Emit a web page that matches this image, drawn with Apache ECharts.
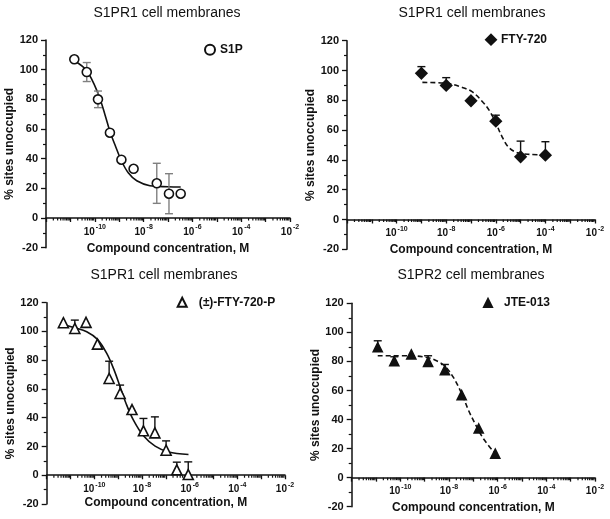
<!DOCTYPE html>
<html><head><meta charset="utf-8">
<script src="https://cdn.jsdelivr.net/npm/echarts@6/dist/echarts.min.js"></script>
<style>html,body{margin:0;padding:0;background:#fff}#c{width:610px;height:519px}</style>
</head><body><div id="c"></div>
<script>
// ---------- text ----------
const panelTitles = ['S1PR1 cell membranes', 'S1PR1 cell membranes', 'S1PR1 cell membranes', 'S1PR2 cell membranes'];
const compoundNames = ['S1P', 'FTY-720', '(±)-FTY-720-P', 'JTE-013'];
const xAxisTitle = 'Compound concentration, M';
const yAxisTitle = '% sites unoccupied';
const yTickValues = [-20, 0, 20, 40, 60, 80, 100, 120];
const xLabelExponents = [-10, -8, -6, -4, -2];

// ---------- data (x = log10 of concentration in M) ----------
// S1P
const s1pLogConc = [-10.84, -10.33, -9.87, -9.38, -8.91, -8.41, -7.46, -6.96, -6.48];
const s1pValues = [107, 98.4, 80, 57.5, 39.3, 33.2, 23.4, 16.4, 16.4];
const s1pErrUp = [0, 6.4, 5.6, 2, 0, 0, 13.5, 13.5, 0];
const s1pErrDown = [0, 6.4, 5.6, 2, 0, 0, 13.5, 13.5, 0];
const s1pFitLogConc = [-10.84, -10.33, -9.87, -9.58, -9.38, -9.17, -8.91, -8.63, -8.28, -7.74, -7.0, -6.48];
const s1pFitValues = [106, 99.3, 84.1, 69.5, 58.3, 49.2, 38.6, 30.5, 25.1, 21.8, 21.1, 20.9];

// FTY-720
const ftyLogConc = [-9, -8, -7, -6, -5, -4];
const ftyValues = [98.1, 90, 79.7, 66, 42.1, 43.2];
const ftyErrUp = [4.5, 5.2, 0, 4, 10.5, 9];
const ftyErrDown = [0, 0, 0, 0, 0, 0];
const ftyFitLogConc = [-8.96, -7.97, -7.44, -6.96, -6.50, -6.23, -5.99, -5.76, -5.50, -5.16, -4.62, -3.95];
const ftyFitValues = [92, 91.4, 89.1, 85.8, 78.4, 72.3, 64.5, 56, 48.8, 45, 43.7, 43.4];

// (±)-FTY-720-P
const ftypLogConc = [-11.30, -10.82, -10.35, -9.87, -9.38, -8.92, -8.42, -7.94, -7.46, -6.99, -6.54, -6.06];
const ftypValues = [106.1, 102.1, 106.3, 91.2, 67.3, 56.9, 45.7, 30.9, 29.5, 17.4, 3.8, 0.5];
const ftypErrUp = [0, 5.8, 0, 0, 12, 5.8, 0, 8.6, 11.1, 6.5, 5.3, 8.8];
const ftypErrDown = [0, 0, 0, 0, 0, 0, 0, 0, 0, 0, 0, 0];
const ftypFitLogConc = [-11.44, -10.82, -10.32, -9.87, -9.48, -9.17, -8.92, -8.67, -8.36, -7.94, -7.45, -6.89, -6.05];
const ftypFitValues = [105.6, 102.6, 99.8, 94.5, 84.7, 73.1, 61.5, 49.9, 38.3, 27.4, 20.2, 16.2, 14.4];

// JTE-013
const jteLogConc = [-10.93, -10.25, -9.55, -8.86, -8.17, -7.48, -6.78, -6.10];
const jteValues = [89.7, 80.2, 84.8, 79.7, 74, 56.8, 33.8, 16.5];
const jteErrUp = [4.5, 3, 0, 4.2, 3.9, 0, 0, 0];
const jteErrDown = [0, 0, 0, 0, 0, 0, 0, 0];
const jteFitLogConc = [-10.93, -9.60, -8.86, -8.51, -8.17, -7.82, -7.48, -7.20, -6.93, -6.59, -6.10];
const jteFitValues = [83.9, 83.9, 82.5, 80.4, 76.8, 69.0, 57.9, 46.4, 37.2, 26.9, 16.5];

// ---------- layout / style ----------
const FONT = 'Liberation Sans, Arial, sans-serif';
const INK = '#111';
const Y_MIN = -20, Y_MAX = 120;
const grids = [
  { left: 46, top: 40, width: 244, height: 207.7 },
  { left: 347, top: 40.7, width: 248, height: 208.6 },
  { left: 46.7, top: 302.7, width: 238.3, height: 201.3 },
  { left: 351.7, top: 303.3, width: 243.3, height: 203.4 }
];
const xNameGaps = [25, 24, 21, 24];
const titlePos = [[167, 6], [472, 6], [164, 268], [471, 268]];
const legendPos = [[204, 43.7], [485, 33.7], [176.7, 296.3], [483, 297]];

// minor tick positions of a log axis (log10 of 2..9 within each decade)
const minorTicks = [];
for (let d = -12; d < -2; d++) for (let k = 2; k <= 9; k++) minorTicks.push([d + Math.log10(k), 0]);

const panels = [
  { log: s1pLogConc, val: s1pValues, up: s1pErrUp, dn: s1pErrDown, fx: s1pFitLogConc, fy: s1pFitValues,
    symbol: 'circle', size: 9, fill: '#fff', dashed: false, errColor: '#808080', leg: 10 },
  { log: ftyLogConc, val: ftyValues, up: ftyErrUp, dn: ftyErrDown, fx: ftyFitLogConc, fy: ftyFitValues,
    symbol: 'diamond', size: 11, fill: INK, dashed: true, errColor: INK, leg: 10 },
  { log: ftypLogConc, val: ftypValues, up: ftypErrUp, dn: ftypErrDown, fx: ftypFitLogConc, fy: ftypFitValues,
    symbol: 'triangle', size: 10, fill: '#fff', dashed: false, errColor: INK, leg: 9 },
  { log: jteLogConc, val: jteValues, up: jteErrUp, dn: jteErrDown, fx: jteFitLogConc, fy: jteFitValues,
    symbol: 'triangle', size: 9, fill: INK, dashed: true, errColor: INK, leg: 8 }
];

const option = {
  animation: false,
  backgroundColor: '#fff',
  textStyle: { fontFamily: FONT, color: INK },
  title: panelTitles.map((t, i) => ({
    text: t, left: titlePos[i][0], top: titlePos[i][1], textAlign: 'center', padding: 0,
    textStyle: { fontFamily: FONT, fontSize: 14, fontWeight: 'normal', color: INK }
  })),
  legend: compoundNames.map((n, i) => ({
    data: [n], left: legendPos[i][0], top: legendPos[i][1], padding: 0,
    itemWidth: panels[i].leg, itemHeight: panels[i].leg, itemGap: 0, selectedMode: false,
    formatter: i === 2 ? '{a|(}{i|±}{t|)-FTY-720-P}' : (i === 3 ? '{a|{name}}' : '{t|{name}}'),
    textStyle: {
      fontFamily: FONT, fontSize: 12, fontWeight: 'bold', color: INK,
      rich: {
        a: { fontFamily: FONT, fontSize: 12, fontWeight: 'bold', color: INK, padding: [0, 0, 0, 7] },
        i: { fontFamily: FONT, fontSize: 12, fontWeight: 'bold', fontStyle: 'italic', color: INK },
        t: { fontFamily: FONT, fontSize: 12, fontWeight: 'bold', color: INK }
      }
    }
  })),
  grid: grids,
  xAxis: grids.map((g, i) => ({
    type: 'value', gridIndex: i, min: -12, max: -2, interval: 1, position: 'bottom',
    // axis drawn where y = 0 crosses the plot
    offset: -g.height * (0 - Y_MIN) / (Y_MAX - Y_MIN),
    axisLine: { onZero: false, lineStyle: { color: INK, width: 1.5 } },
    axisTick: { show: true, length: 4, lineStyle: { color: INK, width: 1.3 } },
    splitLine: { show: false },
    axisLabel: {
      margin: 6,
      formatter: v => (xLabelExponents.indexOf(v) >= 0 ? '{b|10}{s|' + v + '}' : ''),
      rich: {
        b: { fontFamily: FONT, fontSize: 10, fontWeight: 'bold', color: INK, verticalAlign: 'bottom', lineHeight: 13 },
        s: { fontFamily: FONT, fontSize: 7, fontWeight: 'bold', color: INK, verticalAlign: 'top', lineHeight: 13, padding: [0, 0, 0, 1] }
      }
    },
    name: xAxisTitle, nameLocation: 'middle', nameGap: xNameGaps[i],
    nameTextStyle: { fontFamily: FONT, fontSize: 12, fontWeight: 'bold', color: INK }
  })),
  yAxis: grids.map((g, i) => ({
    type: 'value', gridIndex: i, min: Y_MIN, max: Y_MAX, interval: 20,
    axisLine: { show: true, onZero: false, lineStyle: { color: INK, width: 1.5 } },
    axisTick: { show: true, length: 5, lineStyle: { color: INK, width: 1.3 } },
    minorTick: { show: true, splitNumber: 2, length: 3, lineStyle: { color: INK, width: 1.2 } },
    splitLine: { show: false },
    axisLabel: { margin: 8, fontFamily: FONT, fontSize: 11, fontWeight: 'bold', color: INK },
    name: yAxisTitle, nameLocation: 'middle', nameGap: 27,
    nameTextStyle: { fontFamily: FONT, fontSize: 12, fontWeight: 'bold', color: INK }
  })),
  series: []
};

panels.forEach((p, i) => {
  // minor ticks of the log x axis
  option.series.push({
    type: 'custom', xAxisIndex: i, yAxisIndex: i, silent: true, clip: false, z: 1,
    data: minorTicks,
    renderItem: (params, api) => {
      const pt = api.coord([api.value(0), 0]);
      return { type: 'line', shape: { x1: pt[0], y1: pt[1], x2: pt[0], y2: pt[1] + 2.5 },
        style: { stroke: INK, lineWidth: 1.2 } };
    }
  });
  // fitted curve
  option.series.push({
    type: 'line', name: compoundNames[i] + ' fit', xAxisIndex: i, yAxisIndex: i,
    data: p.fx.map((x, k) => [x, p.fy[k]]),
    showSymbol: false, symbol: 'none', smooth: 0.35, z: 2, silent: true,
    lineStyle: { color: INK, width: 1.6, type: p.dashed ? [5, 3] : 'solid' }
  });
  // error bars
  option.series.push({
    type: 'custom', xAxisIndex: i, yAxisIndex: i, silent: true, z: 3,
    data: p.log.map((x, k) => [x, p.val[k], p.up[k], p.dn[k]]),
    encode: { x: 0, y: 1 },
    renderItem: (params, api) => {
      const x = api.value(0), y = api.value(1), u = api.value(2), d = api.value(3);
      if (!u && !d) return null;
      const top = api.coord([x, y + u]), bot = api.coord([x, y - d]);
      const st = { stroke: p.errColor, lineWidth: 1.4 };
      const ch = [{ type: 'line', shape: { x1: top[0], y1: top[1], x2: bot[0], y2: bot[1] }, style: st }];
      if (u) ch.push({ type: 'line', shape: { x1: top[0] - 4, y1: top[1], x2: top[0] + 4, y2: top[1] }, style: st });
      if (d) ch.push({ type: 'line', shape: { x1: bot[0] - 4, y1: bot[1], x2: bot[0] + 4, y2: bot[1] }, style: st });
      return { type: 'group', children: ch };
    }
  });
  // data points
  option.series.push({
    type: 'scatter', name: compoundNames[i], xAxisIndex: i, yAxisIndex: i, z: 4,
    data: p.log.map((x, k) => [x, p.val[k]]),
    symbol: p.symbol, symbolSize: p.size,
    itemStyle: { color: p.fill, borderColor: INK, borderWidth: 1.6, opacity: 1 }
  });
});

const chart = echarts.init(document.getElementById('c'), null, { renderer: 'canvas' });
chart.setOption(option);
</script>
</body></html>
